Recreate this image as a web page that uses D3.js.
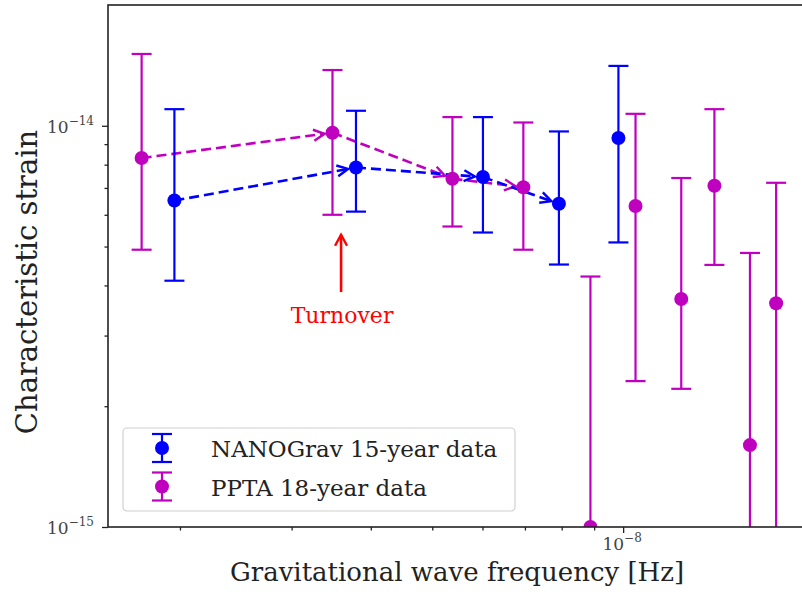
<!DOCTYPE html>
<html>
<head>
<meta charset="utf-8">
<script src="https://cdn.jsdelivr.net/npm/d3@7"></script>
<style>
  html, body { margin: 0; padding: 0; background: #fff; }
  svg text { font-family: "DejaVu Serif", "Liberation Serif", serif; fill: #222; }
</style>
</head>
<body>
<svg id="chart" width="802" height="597"></svg>
<script>
// NANOGrav 15-year free-spectrum points (frequency in Hz, characteristic strain)
const nanoFreq = [1.96e-9, 3.79e-9, 6.01e-9, 7.92e-9, 9.83e-9];
const nanoHc   = [6.51e-15, 7.87e-15, 7.45e-15, 6.39e-15, 9.32e-15];
const nanoHi   = [1.10e-14, 1.09e-14, 1.051e-14, 9.68e-15, 1.41e-14];
const nanoLo   = [4.11e-15, 6.11e-15, 5.42e-15, 4.51e-15, 5.12e-15];

// PPTA 18-year free-spectrum points
const pptaFreq = [1.74e-9, 3.48e-9, 5.38e-9, 6.96e-9, 8.88e-9, 1.046e-8, 1.235e-8, 1.393e-8, 1.585e-8, 1.743e-8];
const pptaHc   = [8.31e-15, 9.61e-15, 7.38e-15, 7.03e-15, 1.0e-15, 6.31e-15, 3.70e-15, 7.09e-15, 1.60e-15, 3.61e-15];
const pptaHi   = [1.51e-14, 1.377e-14, 1.051e-14, 1.019e-14, 4.21e-15, 1.071e-14, 7.41e-15, 1.10e-14, 4.82e-15, 7.21e-15];
const pptaLo   = [4.91e-15, 6.00e-15, 5.61e-15, 4.91e-15, 1e-16, 2.31e-15, 2.21e-15, 4.50e-15, 1e-16, 1e-16];

// Low-frequency trend arrows: pairs of point indices (from -> to)
const trendSteps = [[0, 1], [1, 2], [2, 3]];

// "Turnover" marker arrow
const turnoverFreq = 3.59e-9;
const turnoverFrom = 3.85e-15;
const turnoverTo   = 5.35e-15;
const turnoverText = "Turnover";

// Axes
const xDomain = [1.54e-9, 2e-8];
const yDomain = [1e-15, 2e-14];
const xMajorTicks = [1e-8];
const xMajorExp = ["\u22128"];
const xMinorTicks = [2e-9, 3e-9, 4e-9, 5e-9, 6e-9, 7e-9, 8e-9, 9e-9];
const yMajorTicks = [1e-15, 1e-14];
const yMajorExp = ["\u221215", "\u221214"];
const yMinorTicks = [2e-15, 3e-15, 4e-15, 5e-15, 6e-15, 7e-15, 8e-15, 9e-15];
const xLabel = "Gravitational wave frequency [Hz]";
const yLabel = "Characteristic strain";
const seriesNames = ["NANOGrav 15-year data", "PPTA 18-year data"];

const BLUE = "#0000ff", MAGENTA = "#bf00bf", RED = "#ff0000";

const svg = d3.select("#chart");
const plotLeft = 108, plotRight = 814, plotTop = 5, plotBottom = 527;

const x = d3.scaleLog().domain(xDomain).range([plotLeft, plotRight]);
const y = d3.scaleLog().domain(yDomain).range([plotBottom, plotTop]);

svg.append("defs").append("clipPath").attr("id", "plotClip")
  .append("rect").attr("x", plotLeft).attr("y", plotTop)
  .attr("width", plotRight - plotLeft).attr("height", plotBottom - plotTop);

const plot = svg.append("g").attr("clip-path", "url(#plotClip)");

// arrow between two points with an open "->" head
function drawArrow(g, x0, y0, x1, y1, color, shrink, headLen, headHalf, dashed) {
  const dx = x1 - x0, dy = y1 - y0, L = Math.hypot(dx, dy);
  const ux = dx / L, uy = dy / L;
  const tx = x1 - ux * shrink, ty = y1 - uy * shrink;
  g.append("line")
    .attr("x1", x0).attr("y1", y0).attr("x2", tx).attr("y2", ty)
    .attr("stroke", color).attr("stroke-width", 2.6)
    .attr("stroke-dasharray", dashed ? "10,5" : null)
    .attr("stroke-linecap", "butt");
  const bx = tx - ux * headLen, by = ty - uy * headLen;
  const px = -uy, py = ux;
  g.append("path")
    .attr("d", `M${bx + px * headHalf},${by + py * headHalf}L${tx},${ty}L${bx - px * headHalf},${by - py * headHalf}`)
    .attr("fill", "none").attr("stroke", color).attr("stroke-width", 2.4)
    .attr("stroke-linejoin", "miter");
}

function drawTrend(freq, hc, color) {
  const g = plot.append("g");
  trendSteps.forEach(([a, b]) => {
    drawArrow(g, x(freq[a]), y(hc[a]), x(freq[b]), y(hc[b]), color, 8, 11, 5.5, true);
  });
}

function drawErrorbars(freq, hc, lo, hi, color) {
  const g = plot.append("g");
  const pts = freq.map((f, i) => ({ f, v: hc[i], lo: lo[i], hi: hi[i] }));
  g.selectAll("line.bar").data(pts).join("line").attr("class", "bar")
    .attr("x1", d => x(d.f)).attr("x2", d => x(d.f))
    .attr("y1", d => y(d.lo)).attr("y2", d => y(d.hi))
    .attr("stroke", color).attr("stroke-width", 2.2);
  ["lo", "hi"].forEach(k => {
    g.selectAll("line.cap" + k).data(pts).join("line").attr("class", "cap" + k)
      .attr("x1", d => x(d.f) - 10).attr("x2", d => x(d.f) + 10)
      .attr("y1", d => y(d[k])).attr("y2", d => y(d[k]))
      .attr("stroke", color).attr("stroke-width", 2.2);
  });
  g.selectAll("circle").data(pts).join("circle")
    .attr("cx", d => x(d.f)).attr("cy", d => y(d.v)).attr("r", 7)
    .attr("fill", color);
}

drawTrend(pptaFreq, pptaHc, MAGENTA);
drawTrend(nanoFreq, nanoHc, BLUE);
drawErrorbars(nanoFreq, nanoHc, nanoLo, nanoHi, BLUE);
drawErrorbars(pptaFreq, pptaHc, pptaLo, pptaHi, MAGENTA);

// turnover annotation
drawArrow(svg.append("g"), x(turnoverFreq), y(turnoverFrom), x(turnoverFreq), y(turnoverTo),
  RED, 0, 11, 6, false);
svg.append("text").attr("x", x(turnoverFreq) + 1).attr("y", y(turnoverFrom) + 31)
  .attr("text-anchor", "middle").style("fill", RED).style("font-size", "22px")
  .text(turnoverText);

// axes ticks
const xAxisMajor = d3.axisBottom(x).tickValues(xMajorTicks).tickSize(6).tickSizeOuter(0).tickFormat("");
const xAxisMinor = d3.axisBottom(x).tickValues(xMinorTicks).tickSize(3.5).tickSizeOuter(0).tickFormat("");
const yAxisMajor = d3.axisLeft(y).tickValues(yMajorTicks).tickSize(6).tickSizeOuter(0).tickFormat("");
const yAxisMinor = d3.axisLeft(y).tickValues(yMinorTicks).tickSize(3.5).tickSizeOuter(0).tickFormat("");

[xAxisMajor, xAxisMinor].forEach(a => {
  const g = svg.append("g").attr("transform", `translate(0,${plotBottom})`).call(a);
  g.select(".domain").remove();
  g.selectAll(".tick line").attr("stroke", "#222").attr("stroke-width", 1.3);
});
[yAxisMajor, yAxisMinor].forEach(a => {
  const g = svg.append("g").attr("transform", `translate(${plotLeft},0)`).call(a);
  g.select(".domain").remove();
  g.selectAll(".tick line").attr("stroke", "#222").attr("stroke-width", 1.3);
});

// tick labels (powers of ten)
function powerLabel(px, py, exp, anchor) {
  const t = svg.append("text").attr("x", px).attr("y", py)
    .attr("text-anchor", anchor).style("font-size", "17px").style("fill", "#444");
  t.append("tspan").text("10");
  t.append("tspan").attr("dy", -8).style("font-size", "12px").text(exp);
}
yMajorTicks.forEach((v, i) => powerLabel(plotLeft - 14, y(v) + 7, yMajorExp[i], "end"));
xMajorTicks.forEach((v, i) => powerLabel(x(v) - 1, plotBottom + 23, xMajorExp[i], "middle"));

// frame
svg.append("rect").attr("x", plotLeft).attr("y", plotTop)
  .attr("width", plotRight - plotLeft).attr("height", plotBottom - plotTop)
  .attr("fill", "none").attr("stroke", "#222").attr("stroke-width", 1.6);

// axis labels
svg.append("text").attr("x", 457).attr("y", 581).attr("text-anchor", "middle")
  .style("font-size", "26px").text(xLabel);
svg.append("text").attr("transform", "translate(37,282) rotate(-90)")
  .attr("text-anchor", "middle").style("font-size", "29px").text(yLabel);

// legend
const legend = svg.append("g");
legend.append("rect").attr("x", 123).attr("y", 428).attr("width", 392).attr("height", 83)
  .attr("rx", 4).attr("fill", "#fff").attr("fill-opacity", 0.8)
  .attr("stroke", "#d0d0d0").attr("stroke-width", 1.2);
[BLUE, MAGENTA].forEach((c, i) => {
  const cy = 448 + i * 38.5, cx = 162;
  legend.append("line").attr("x1", cx).attr("x2", cx).attr("y1", cy - 14).attr("y2", cy + 14)
    .attr("stroke", c).attr("stroke-width", 2.2);
  [-14, 14].forEach(o => legend.append("line")
    .attr("x1", cx - 10).attr("x2", cx + 10).attr("y1", cy + o).attr("y2", cy + o)
    .attr("stroke", c).attr("stroke-width", 2.2));
  legend.append("circle").attr("cx", cx).attr("cy", cy).attr("r", 7).attr("fill", c);
  legend.append("text").attr("x", 211).attr("y", cy + 9)
    .style("font-size", "23px").text(seriesNames[i]);
});
</script>
</body>
</html>
